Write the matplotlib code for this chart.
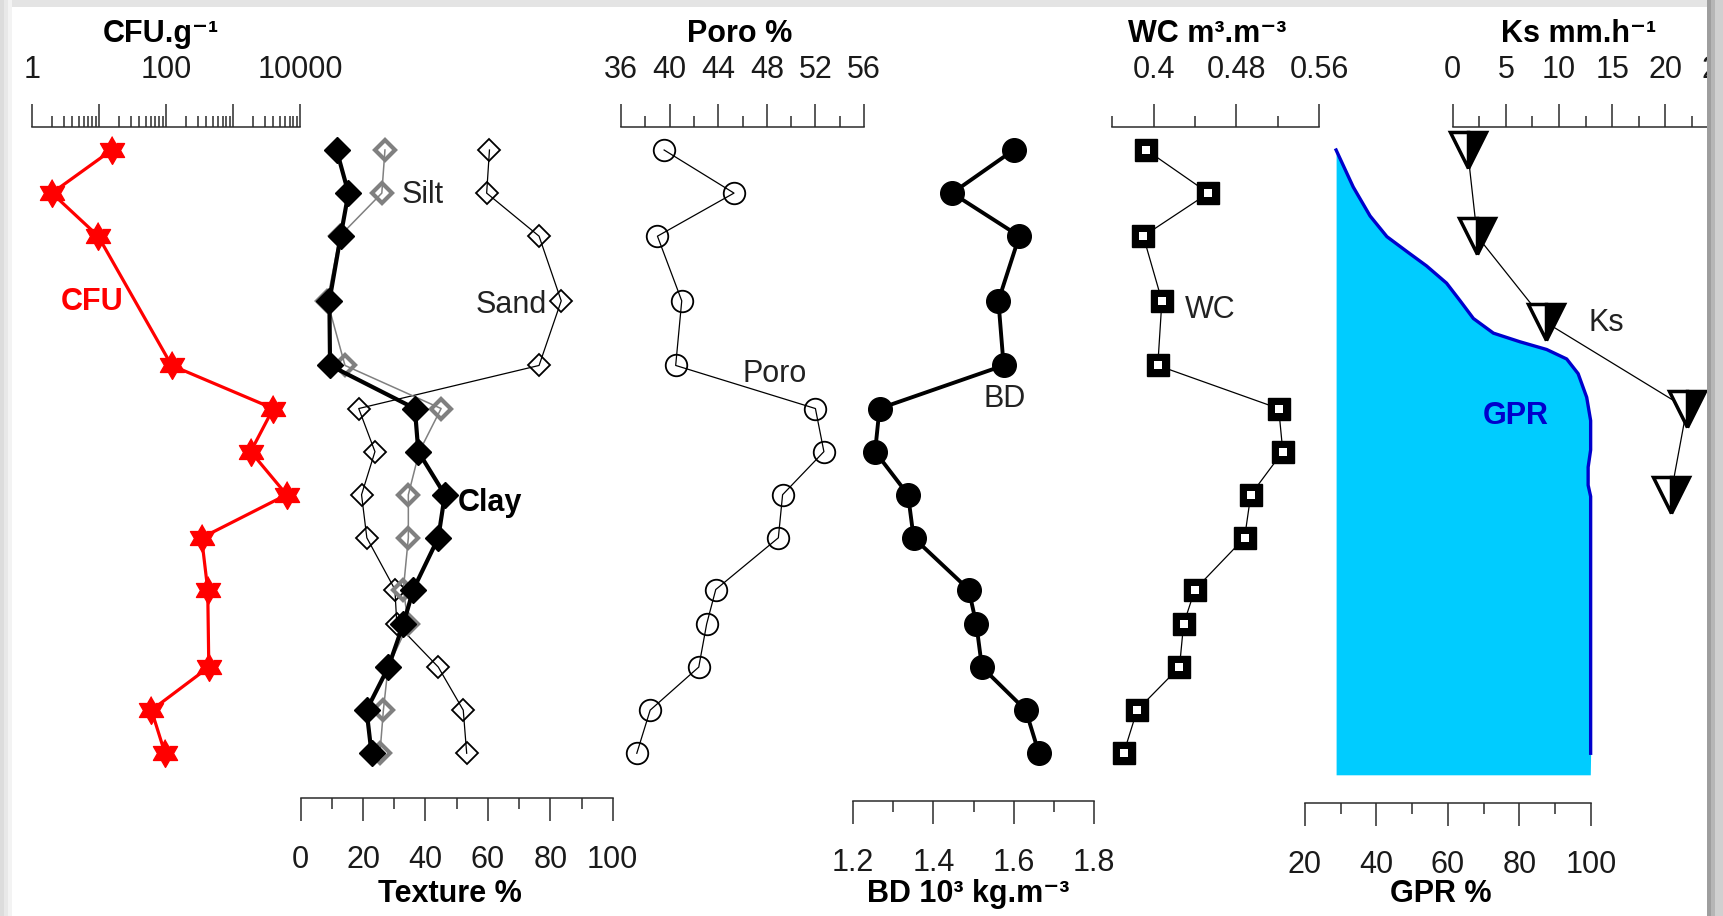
import matplotlib
matplotlib.use("Agg")
import numpy as np
import matplotlib.pyplot as plt
from matplotlib.patches import Rectangle
from matplotlib.ticker import FixedLocator, FixedFormatter

W, H = 1724, 916
FONT = ["Liberation Sans", "DejaVu Sans"]
plt.rcParams["font.family"] = FONT

# ---- data (depth in cm, hidden axis) ----
depth_cfu = [0, 10, 20, 50, 60, 70, 80, 90, 102, 120, 130, 140]
cfu = [15.6, 2.0, 9.8, 122, 3990, 1840, 6310, 341, 421, 437, 61, 97]

depth = [0, 10, 20, 35, 50, 60, 70, 80, 90, 102, 110, 120, 130, 140]
clay = [11.5, 15.3, 12.8, 9.2, 9.4, 36.6, 37.7, 46.2, 44.1, 36.1, 32.9, 28.1, 21.1, 22.7]
silt = [27.0, 26.0, 12.5, 8.5, 14.2, 45.0, 38.0, 34.5, 34.5, 32.9, 34.5, 28.0, 26.5, 25.4]
sand = [60.5, 59.6, 76.4, 83.5, 76.4, 18.6, 23.8, 19.5, 21.2, 30.2, 30.8, 44.1, 52.1, 53.2]
poro = [39.55, 45.3, 39.0, 41.0, 40.5, 52.0, 52.7, 49.3, 48.95, 43.8, 43.05, 42.4, 38.4, 37.3]
bd = [1.600, 1.447, 1.614, 1.562, 1.575, 1.266, 1.255, 1.337, 1.351, 1.488, 1.507, 1.521, 1.630, 1.663]
wc = [0.393, 0.453, 0.390, 0.408, 0.404, 0.521, 0.525, 0.494, 0.488, 0.440, 0.429, 0.425, 0.384, 0.371]

depth_ks = [0, 20, 40, 60, 80]
ks = [1.4, 2.3, 8.75, 22.0, 20.5]

depth_gpr = [0, 8.6, 15.3, 20.1, 23.5, 26.9, 30.9, 35.0, 39.1, 42.5, 44.5, 46.3,
             48.5, 51.9, 57.4, 62.8, 69.6, 73.6, 77.8, 80.4, 140]
gpr = [28.7, 33.5, 38.2, 42.9, 48.4, 54.0, 59.6, 63.4, 67.1, 72.7, 80.1, 87.6,
       93.2, 96.4, 98.8, 99.9, 99.9, 99.2, 99.2, 99.9, 99.9]
gpr_base = 28.7
gpr_fill_end_depth = 145
gpr_fill_end_value = 99.8

# ---- layout helpers (pixel based) ----
ROW0_PX, PX_PER_CM = 150, 4.309
TOP_LINE, BOT_LINE = 127, 800
AX_COLOR = "#2b2b2b"

# six-pointed star (hexagram) marker
ang = np.pi / 2 + np.arange(12) * np.pi / 6
rad = np.where(np.arange(12) % 2 == 0, 1.0, 0.577)
HEXAGRAM = list(zip(rad * np.cos(ang), rad * np.sin(ang)))

fig = plt.figure(figsize=(W / 100, H / 100), dpi=100)
fig.patch.set_facecolor("white")


def add_panel(x0, x1, xlim, side, line_px, major, minor, labels, xscale="linear"):
    y_top = line_px if side == "top" else TOP_LINE
    y_bot = line_px if side == "bottom" else BOT_LINE
    ax = fig.add_axes([x0 / W, 1 - y_bot / H, (x1 - x0) / W, (y_bot - y_top) / H])
    ax.set_xscale(xscale)
    ax.set_xlim(*xlim)
    ax.set_ylim((y_bot - ROW0_PX) / PX_PER_CM, (y_top - ROW0_PX) / PX_PER_CM)
    ax.patch.set_visible(False)
    for s in ["left", "right", "top", "bottom"]:
        ax.spines[s].set_visible(s == side)
    ax.spines[side].set_color(AX_COLOR)
    ax.spines[side].set_linewidth(1.1)
    ax.yaxis.set_visible(False)
    ax.xaxis.set_major_locator(FixedLocator(major))
    ax.xaxis.set_major_formatter(FixedFormatter(labels))
    ax.xaxis.set_minor_locator(FixedLocator(minor))
    ax.xaxis.set_minor_formatter(FixedFormatter([]))
    is_top = side == "top"
    ax.tick_params(axis="x", which="both", top=is_top, bottom=not is_top,
                   labeltop=is_top, labelbottom=not is_top, direction="out",
                   color=AX_COLOR, width=1.1)
    ax.tick_params(axis="x", which="major", length=16.5, labelsize=22,
                   labelcolor="#1a1a1a", pad=14 if is_top else 17.5)
    ax.tick_params(axis="x", which="minor", length=8)
    return ax


def fig_text(x, y, s, **kw):
    fig.text(x / W, 1 - y / H, s, **kw)


# CFU panel (log, top)
cfu_minor = [m * 10 ** e for e in range(4) for m in range(2, 10)]
ax_cfu = add_panel(31.7, 300, (1, 1e4), "top", TOP_LINE,
                   [1, 10, 100, 1000, 10000], cfu_minor,
                   ["1", "", "100", "", "10000"], xscale="log")
ax_cfu.plot(cfu, depth_cfu, color="#FF0000", lw=2.3, marker=HEXAGRAM, ms=20,
            mfc="#FF0000", mec="#FF0000", clip_on=False)

# Texture panel (bottom)
ax_tex = add_panel(300.7, 612.7, (0, 100), "bottom", 798,
                   [0, 20, 40, 60, 80, 100], [10, 30, 50, 70, 90],
                   ["0", "20", "40", "60", "80", "100"])
ax_tex.plot(sand, depth, color="black", lw=0.9, marker="D", ms=11.5, mfc="none",
            mec="black", mew=1.3, clip_on=False)
ax_tex.plot(silt, depth, color="#808080", lw=1.1, marker="D", ms=10.5, mfc="none",
            mec="#808080", mew=3, clip_on=False)
ax_tex.plot(clay, depth, color="black", lw=3, marker="D", ms=13, mfc="black",
            mec="black", clip_on=False)

# Porosity panel (top)
ax_poro = add_panel(621, 864, (36, 56), "top", TOP_LINE,
                    [36, 40, 44, 48, 52, 56], [38, 42, 46, 50, 54],
                    ["36", "40", "44", "48", "52", "56"])
ax_poro.plot(poro, depth, color="black", lw=0.9, marker="o", ms=15.5, mfc="none",
             mec="black", mew=1.3, clip_on=False)

# Bulk density panel (bottom)
ax_bd = add_panel(853, 1094, (1.2, 1.8), "bottom", 801,
                  [1.2, 1.4, 1.6, 1.8], [1.3, 1.5, 1.7],
                  ["1.2", "1.4", "1.6", "1.8"])
ax_bd.plot(bd, depth, color="black", lw=2.8, marker="o", ms=17, mfc="black",
           mec="black", clip_on=False)

# Water content panel (top)
ax_wc = add_panel(1112.3, 1319, (0.36, 0.56), "top", TOP_LINE,
                  [0.40, 0.48, 0.56], [0.36, 0.44, 0.52],
                  ["0.4", "0.48", "0.56"])
ax_wc.plot(wc, depth, color="black", lw=0.9, marker="s", ms=16.5, mfc="black",
           mec="black", clip_on=False)
ax_wc.plot(wc, depth, ls="none", marker="s", ms=5.5, mfc="white", mec="white",
           mew=0, clip_on=False)

# GPR panel (bottom)
ax_gpr = add_panel(1305, 1591, (20, 100), "bottom", 803,
                   [20, 40, 60, 80, 100], [30, 50, 70, 90],
                   ["20", "40", "60", "80", "100"])
ax_gpr.fill_betweenx(depth_gpr + [gpr_fill_end_depth], gpr_base,
                     gpr + [gpr_fill_end_value], color="#00CCFF", lw=0, clip_on=False)
ax_gpr.plot(gpr, depth_gpr, color="#0000CC", lw=2.4, clip_on=False)

# Ks panel (top)
ax_ks = add_panel(1452.7, 1718.7, (0, 25), "top", TOP_LINE,
                  [0, 5, 10, 15, 20, 25], [2.5, 7.5, 12.5, 17.5, 22.5],
                  ["0", "5", "10", "15", "20", "25"])
ax_ks.plot(ks, depth_ks, color="black", lw=0.9, marker="v", ms=26, fillstyle="right",
           mfc="black", markerfacecoloralt="white", mec="black", mew=2.5, clip_on=False)

# axis titles
title_kw = dict(fontsize=22, fontweight="bold", ha="center", va="baseline", family=FONT)
fig_text(161, 42, "CFU.g\u207b\u00b9", **title_kw)
fig_text(740, 42, "Poro %", **title_kw)
fig_text(1207, 42, "WC m\u00b3.m\u207b\u00b3", **title_kw)
fig_text(1579, 42, "Ks mm.h\u207b\u00b9", **title_kw)
fig_text(450, 902, "Texture %", **title_kw)
fig_text(968, 902, "BD 10\u00b3 kg.m\u207b\u00b3", **title_kw)
fig_text(1441, 902, "GPR %", **title_kw)

# inline series labels
lab_kw = dict(fontsize=22, va="center", family=FONT)
fig_text(92, 302, "CFU", color="#FF0000", fontweight="bold", ha="center", **lab_kw)
fig_text(402, 195, "Silt", color="#222222", ha="left", **lab_kw)
fig_text(511, 305, "Sand", color="#222222", ha="center", **lab_kw)
fig_text(490, 503, "Clay", color="black", fontweight="bold", ha="center", **lab_kw)
fig_text(775, 374, "Poro", color="#222222", ha="center", **lab_kw)
fig_text(1005, 399, "BD", color="#222222", ha="center", **lab_kw)
fig_text(1210, 310, "WC", color="#222222", ha="center", **lab_kw)
fig_text(1606, 323, "Ks", color="#222222", ha="center", **lab_kw)
fig_text(1516, 416, "GPR", color="#0000CC", fontweight="bold", ha="center", **lab_kw)


# screenshot-like border
def fig_rect(x0, y0, x1, y1, color):
    fig.add_artist(Rectangle((x0 / W, 1 - y1 / H), (x1 - x0) / W, (y1 - y0) / H,
                             transform=fig.transFigure, facecolor=color, lw=0, zorder=100))


fig_rect(0, 0, W, 7, "#e4e4e4")
fig_rect(0, 0, 4, H, "#dcdcdc")
fig_rect(4, 0, 8, H, "#e8e8e8")
fig_rect(8, 0, 12, H, "#f3f3f3")
fig_rect(1707, 0, 1711, H, "#9e9e9e")
fig_rect(1711, 0, 1715, H, "#b6b6b6")
fig_rect(1715, 0, W, H, "#d0d0d0")

fig.savefig("out.png", dpi=100)
